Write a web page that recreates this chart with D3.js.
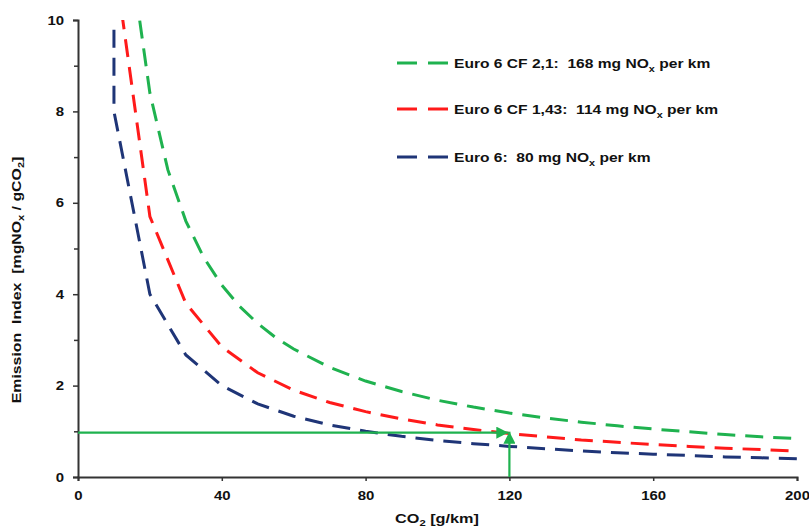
<!DOCTYPE html>
<html><head><meta charset="utf-8">
<script src="https://cdn.jsdelivr.net/npm/d3@7"></script>
<style>body{margin:0;background:#fff}text{font-family:Arial,"Liberation Sans",sans-serif;font-weight:bold;fill:#111;white-space:pre}</style>
</head><body><svg id="c" width="809" height="527"></svg>
<script>
const xTicks = [0, 40, 80, 120, 160, 200];
const yTicks = [0, 2, 4, 6, 8, 10];
const yMinorTicks = [1, 3, 5, 7, 9];
const blueX = [10, 10, 20, 30, 40, 50, 60, 70, 80, 90, 100, 110, 120, 130, 140, 150, 160, 170, 180, 190, 200];
const blueY = [10.4, 8, 4, 2.67, 2, 1.6, 1.33, 1.14, 1, 0.89, 0.8, 0.73, 0.67, 0.62, 0.57, 0.53, 0.5, 0.47, 0.44, 0.42, 0.4];
const redX = [10, 20, 30, 40, 50, 60, 70, 80, 90, 100, 110, 120, 130, 140, 150, 160, 170, 180, 190, 200];
const redY = [11.4, 5.7, 3.8, 2.85, 2.28, 1.9, 1.63, 1.43, 1.27, 1.14, 1.04, 0.95, 0.88, 0.81, 0.76, 0.71, 0.67, 0.63, 0.6, 0.57];
const greenX = [15, 20, 25, 30, 35, 40, 45, 50, 55, 60, 70, 80, 90, 100, 110, 120, 130, 140, 150, 160, 170, 180, 190, 200];
const greenY = [11.2, 8.4, 6.72, 5.6, 4.8, 4.2, 3.73, 3.36, 3.05, 2.8, 2.4, 2.1, 1.87, 1.68, 1.53, 1.4, 1.29, 1.2, 1.12, 1.05, 0.99, 0.93, 0.88, 0.84];
const seriesNames = ["Euro 6 CF 2,1:  168 mg NO", "Euro 6 CF 1,43:  114 mg NO", "Euro 6:  80 mg NO"];
const seriesColors = ["#1fb24f", "#ff1a1a", "#1f3577"];
const markerX = 120, markerY = 0.97;

const svg = d3.select("#c");
const x = d3.scaleLinear().domain([0, 200]).range([78, 797]);
const y = d3.scaleLinear().domain([0, 10]).range([477, 20]);

function stretch(sel, s) {
  sel.each(function() {
    const t = d3.select(this);
    const tx = +t.attr("x") || 0, ty = +t.attr("y") || 0;
    t.attr("x", 0).attr("y", 0).attr("transform", `translate(${tx},${ty}) scale(${s},1)`);
  });
}

const defs = svg.append("defs");
defs.append("clipPath").attr("id","clip").append("rect")
  .attr("x", 78).attr("y", 20).attr("width", 731).attr("height", 457);
defs.append("marker").attr("id","ah").attr("viewBox","0 0 10 10")
  .attr("refX",10).attr("refY",5).attr("markerWidth",5.5).attr("markerHeight",5.5)
  .attr("markerUnits","strokeWidth").attr("orient","auto")
  .append("path").attr("d","M0,0L10,5L0,10z").attr("fill","#1fb24f");

// axes
svg.append("g").attr("transform","translate(78,0)")
  .call(d3.axisLeft(y).tickValues(yTicks).tickSize(5).tickPadding(9).tickFormat(d3.format("d")));
svg.append("g").attr("transform","translate(78,0)")
  .call(d3.axisLeft(y).tickValues(yMinorTicks).tickSize(4).tickFormat(""))
  .call(g=>g.select(".domain").remove());
svg.append("g").attr("transform","translate(0,477)")
  .call(d3.axisBottom(x).tickValues(xTicks).tickSize(4).tickPadding(10).tickFormat(d3.format("d")));
svg.selectAll(".domain").attr("stroke","#333").attr("stroke-width",2);
svg.selectAll(".tick line").attr("stroke","#333").attr("stroke-width",1.5);
svg.selectAll(".tick text").attr("font-size",13).attr("font-weight","bold").attr("fill","#111")
  .attr("font-family","Arial, Liberation Sans, sans-serif");
stretch(svg.selectAll(".tick text"), 1.15);

// curves
const line = d3.line().x(d=>x(d[0])).y(d=>y(d[1]));
const data = [d3.zip(greenX, greenY), d3.zip(redX, redY), d3.zip(blueX, blueY)];
const g = svg.append("g").attr("clip-path","url(#clip)");
data.forEach((pts,i)=>{
  g.append("path").datum(pts).attr("d", line).attr("fill","none")
   .attr("stroke", seriesColors[i]).attr("stroke-width",3)
   .attr("stroke-dasharray","18,10").attr("stroke-linecap","butt");
});

// arrows
svg.append("line").attr("x1", x(0)).attr("y1", y(markerY)).attr("x2", x(markerX)-1).attr("y2", y(markerY))
  .attr("stroke","#1fb24f").attr("stroke-width",2.2).attr("marker-end","url(#ah)");
svg.append("line").attr("x1", x(markerX)).attr("y1", y(0)).attr("x2", x(markerX)).attr("y2", y(markerY)-1)
  .attr("stroke","#1fb24f").attr("stroke-width",2.2).attr("marker-end","url(#ah)");

// legend
const legY = [63, 109, 157];
seriesNames.forEach((n,i)=>{
  const lg = svg.append("g").attr("transform",`translate(397,${legY[i]})`);
  lg.append("line").attr("x1",0).attr("x2",51).attr("y1",0).attr("y2",0)
    .attr("stroke",seriesColors[i]).attr("stroke-width",3).attr("stroke-dasharray","20,11");
  const t = lg.append("text").attr("x",57).attr("y",5).attr("font-size",13);
  t.append("tspan").text(n);
  t.append("tspan").attr("font-size",9).attr("dy",4).text("x");
  t.append("tspan").attr("dy",-4).text(" per km");
  stretch(t, 1.2);
});

// axis titles
const xt = svg.append("text").attr("x", 437).attr("y", 523).attr("text-anchor","middle").attr("font-size",13);
xt.append("tspan").text("CO");
xt.append("tspan").attr("font-size",9).attr("dy",3).text("2");
xt.append("tspan").attr("dy",-3).text(" [g/km]");
stretch(xt, 1.25);

const yt = svg.append("text").attr("transform","translate(21,280) rotate(-90) scale(1.22,1)")
  .attr("text-anchor","middle").attr("font-size",13);
yt.append("tspan").text("Emission  Index  [mgNO");
yt.append("tspan").attr("font-size",9).attr("dy",3).text("x");
yt.append("tspan").attr("dy",-3).text(" / gCO");
yt.append("tspan").attr("font-size",9).attr("dy",3).text("2");
yt.append("tspan").attr("dy",-3).text("]");
</script></body></html>
